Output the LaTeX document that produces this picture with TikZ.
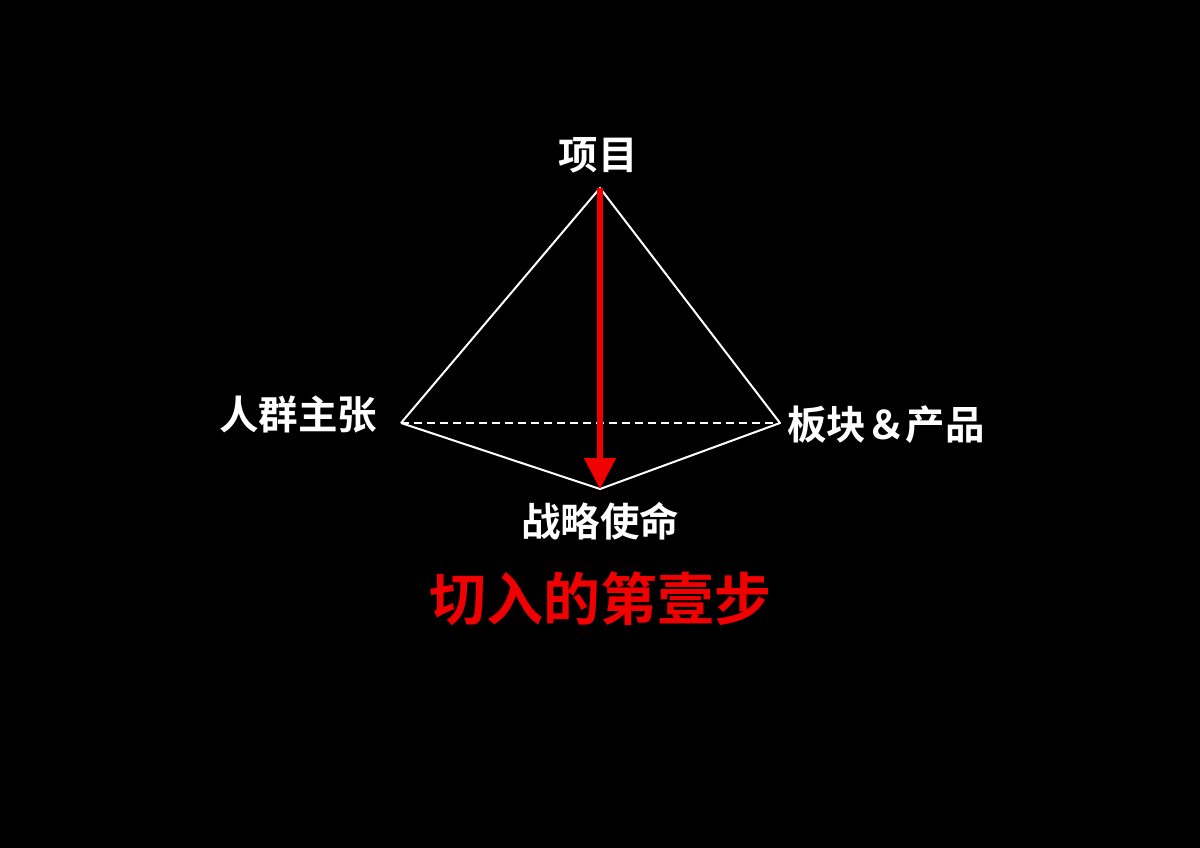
\documentclass[tikz,border=0pt]{standalone}
\usepackage{fontspec}
\newfontfamily\cjk{Noto Sans CJK SC}[BoldFont={Noto Sans CJK SC Bold}]
\usetikzlibrary{arrows.meta}
\definecolor{arrowRed}{RGB}{240,0,0}

\begin{document}
\begin{tikzpicture}[x=1pt,y=-1pt,
    edgeLine/.style={draw=white, line width=2pt},
    labelText/.style={text=white, font=\cjk\bfseries\fontsize{39.5}{42}\selectfont, inner sep=0pt}]
\newcommand{\HOfBase}{423};
\fill[black] (0,0) rectangle (1200,848);
\useasboundingbox (0,0) rectangle (1200,848);

% vertices
\coordinate (apex) at (600,188);
\coordinate (vLeft) at (401,\HOfBase);
\coordinate (vRight) at (780,\HOfBase);
\coordinate (vBottom) at (600,489);

\draw[edgeLine, line join=round] (vLeft) -- (apex) -- (vRight) -- (vBottom) -- (vLeft);
\draw[edgeLine, dash pattern=on 8pt off 5pt] (vLeft) -- (vRight);
\draw[draw=arrowRed, line width=5.5pt, -{Triangle[length=31pt,width=31pt]}] (apex) -- (vBottom);

% labels
\node[labelText] (xiangmu) at (598,155) {项目};
\node[labelText] (renqun) at (298,415) {人群主张};
\node[labelText] (bankuai) at (886,425) {板块＆产品};
\node[labelText] (zhanlue) at (600,521) {战略使命};
\node[text=arrowRed, font=\cjk\bfseries\fontsize{57}{60}\selectfont, inner sep=0pt] (qieru) at (600,599) {切入的第壹步};
\end{tikzpicture}
\end{document}
